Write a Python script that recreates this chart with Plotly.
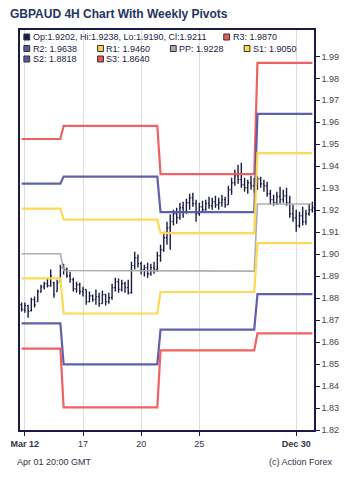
import plotly.graph_objects as go

# ---------------- data ----------------
bar_open = [1.8770, 1.8748, 1.8766, 1.8743, 1.8793, 1.8784, 1.8830, 1.8852, 1.8866, 1.8857,
            1.8870, 1.8830, 1.8875, 1.8939, 1.8930, 1.8902, 1.8884, 1.8843, 1.8861, 1.8830,
            1.8839, 1.8784, 1.8811, 1.8793, 1.8807, 1.8775, 1.8816, 1.8784, 1.8802, 1.8848,
            1.8875, 1.8839, 1.8866, 1.8848, 1.8825, 1.8948, 1.8984, 1.8957, 1.8930, 1.8939,
            1.8911, 1.8939, 1.8930, 1.8993, 1.9020, 1.9075, 1.9120, 1.9148, 1.9184, 1.9166,
            1.9211, 1.9193, 1.9234, 1.9257, 1.9230, 1.9184, 1.9216, 1.9202, 1.9230, 1.9220,
            1.9239, 1.9225, 1.9234, 1.9248, 1.9225, 1.9293, 1.9325, 1.9357, 1.9339, 1.9316,
            1.9302, 1.9325, 1.9311, 1.9330, 1.9343, 1.9320, 1.9311, 1.9275, 1.9248, 1.9234,
            1.9261, 1.9248, 1.9266, 1.9234, 1.9184, 1.9166, 1.9130, 1.9175, 1.9148, 1.9184,
            1.9202]
bar_high = [1.8780, 1.8780, 1.8770, 1.8802, 1.8807, 1.8839, 1.8861, 1.8875, 1.8893, 1.8930,
            1.8875, 1.8884, 1.8952, 1.8957, 1.8939, 1.8920, 1.8893, 1.8875, 1.8870, 1.8852,
            1.8839, 1.8830, 1.8816, 1.8839, 1.8825, 1.8834, 1.8820, 1.8825, 1.8866, 1.8893,
            1.8889, 1.8884, 1.8875, 1.8884, 1.8966, 1.9011, 1.8998, 1.8966, 1.8952, 1.8961,
            1.8957, 1.8966, 1.9011, 1.9043, 1.9102, 1.9148, 1.9180, 1.9202, 1.9211, 1.9234,
            1.9239, 1.9252, 1.9275, 1.9280, 1.9248, 1.9234, 1.9243, 1.9248, 1.9261, 1.9257,
            1.9266, 1.9257, 1.9270, 1.9261, 1.9311, 1.9348, 1.9384, 1.9407, 1.9416, 1.9348,
            1.9339, 1.9357, 1.9348, 1.9357, 1.9352, 1.9339, 1.9330, 1.9293, 1.9270, 1.9284,
            1.9307, 1.9293, 1.9302, 1.9266, 1.9225, 1.9202, 1.9193, 1.9216, 1.9202, 1.9230,
            1.9238]
bar_low = [1.8739, 1.8734, 1.8711, 1.8739, 1.8757, 1.8784, 1.8825, 1.8839, 1.8848, 1.8852,
           1.8802, 1.8830, 1.8875, 1.8907, 1.8893, 1.8870, 1.8830, 1.8825, 1.8816, 1.8807,
           1.8770, 1.8780, 1.8784, 1.8770, 1.8761, 1.8775, 1.8766, 1.8775, 1.8793, 1.8830,
           1.8825, 1.8830, 1.8825, 1.8816, 1.8820, 1.8930, 1.8939, 1.8907, 1.8898, 1.8893,
           1.8902, 1.8911, 1.8920, 1.8966, 1.9011, 1.9043, 1.9020, 1.9130, 1.9139, 1.9157,
           1.9166, 1.9184, 1.9202, 1.9216, 1.9148, 1.9175, 1.9189, 1.9198, 1.9207, 1.9202,
           1.9211, 1.9202, 1.9216, 1.9211, 1.9225, 1.9270, 1.9311, 1.9320, 1.9302, 1.9284,
           1.9275, 1.9293, 1.9280, 1.9293, 1.9302, 1.9284, 1.9261, 1.9225, 1.9220, 1.9225,
           1.9230, 1.9234, 1.9220, 1.9166, 1.9148, 1.9102, 1.9120, 1.9130, 1.9134, 1.9175,
           1.9190]
bar_close = [1.8748, 1.8766, 1.8739, 1.8793, 1.8770, 1.8830, 1.8852, 1.8866, 1.8857, 1.8902,
             1.8816, 1.8870, 1.8939, 1.8930, 1.8902, 1.8884, 1.8843, 1.8861, 1.8830, 1.8839,
             1.8784, 1.8811, 1.8793, 1.8807, 1.8775, 1.8816, 1.8784, 1.8802, 1.8848, 1.8875,
             1.8839, 1.8866, 1.8848, 1.8825, 1.8948, 1.8984, 1.8957, 1.8930, 1.8939, 1.8911,
             1.8939, 1.8930, 1.8993, 1.9020, 1.9075, 1.9120, 1.9148, 1.9184, 1.9166, 1.9211,
             1.9193, 1.9234, 1.9257, 1.9230, 1.9184, 1.9216, 1.9202, 1.9230, 1.9220, 1.9239,
             1.9225, 1.9234, 1.9248, 1.9225, 1.9293, 1.9325, 1.9357, 1.9339, 1.9316, 1.9302,
             1.9325, 1.9311, 1.9330, 1.9343, 1.9320, 1.9311, 1.9275, 1.9248, 1.9234, 1.9261,
             1.9248, 1.9266, 1.9234, 1.9184, 1.9166, 1.9130, 1.9175, 1.9148, 1.9184, 1.9202,
             1.9211]

# bars per weekly pivot period (partial first / last week)
week_bars = [13, 30, 30, 18]
piv_R3 = [1.9524, 1.9584, 1.9364, 1.9870]
piv_R2 = [1.9321, 1.9353, 1.9191, 1.9638]
piv_R1 = [1.9207, 1.9157, 1.9096, 1.9460]
piv_PP = [1.9002, 1.8926, 1.8923, 1.9228]
piv_S1 = [1.8890, 1.8730, 1.8828, 1.9050]
piv_S2 = [1.8685, 1.8499, 1.8657, 1.8818]
piv_S3 = [1.8570, 1.8303, 1.8562, 1.8640]

tick_bars = [1, 19, 37, 55, 85]
tick_text = ["<b>Mar 12</b>", "17", "20", "25", "<b>Dec 30</b>"]
y_tick_vals = [1.82, 1.83, 1.84, 1.85, 1.86, 1.87, 1.88, 1.89, 1.90,
               1.91, 1.92, 1.93, 1.94, 1.95, 1.96, 1.97, 1.98, 1.99]

title_text = "GBPAUD 4H Chart With Weekly Pivots"
footer_left = "Apr 01 20:00 GMT"
footer_right = "(c) Action Forex"

# ---------------- styles ----------------
NAVY = "#1b1b45"
RED = "#ee5a5a"
BLUE = "#5858aa"
YELLOW = "#ffd84d"
GRAY = "#aaaaaa"
FONT = "Liberation Sans, Arial, sans-serif"

W, H = 350, 481
PL, PR, PT, PB = 11, 314, 30, 430


def px(x):
    return (x - PL) / (PR - PL)


def py(y):
    return (PB - y) / (PB - PT)


n = len(bar_close)
idx = list(range(n))


def expand(levels):
    out = []
    for lv, cnt in zip(levels, week_bars):
        out.extend([lv] * cnt)
    return out


fig = go.Figure()

pivots = [
    ("R3", piv_R3, RED), ("R2", piv_R2, BLUE), ("R1", piv_R1, YELLOW),
    ("PP", piv_PP, GRAY), ("S1", piv_S1, YELLOW), ("S2", piv_S2, BLUE),
    ("S3", piv_S3, RED),
]
for name, lv, col in pivots:
    fig.add_trace(go.Scatter(
        x=idx, y=expand(lv), mode="lines", name=name,
        line=dict(color=col, width=1.6 if name == "PP" else 2.2),
        opacity=0.95, showlegend=False, hoverinfo="skip"))

fig.add_trace(go.Ohlc(
    x=idx, open=bar_open, high=bar_high, low=bar_low, close=bar_close,
    increasing=dict(line=dict(color=NAVY, width=1.4)),
    decreasing=dict(line=dict(color=NAVY, width=1.4)),
    tickwidth=0.35, showlegend=False))

# ---------------- custom legend ----------------
o, h, l, c = bar_open[-1], bar_high[-1], bar_low[-1], bar_close[-1]
legend_items = [
    (f"Op:{o:.4f}, Hi:{h:.4f}, Lo:{l:.4f}, Cl:{c:.4f}", NAVY, 15, 37),
    (f"R3: {piv_R3[-1]:.4f}", RED, 221, 37),
    (f"R2: {piv_R2[-1]:.4f}", BLUE, 15, 48.5),
    (f"R1: {piv_R1[-1]:.4f}", YELLOW, 91, 48.5),
    (f"PP: {piv_PP[-1]:.4f}", GRAY, 166, 48.5),
    (f"S1: {piv_S1[-1]:.4f}", YELLOW, 242, 48.5),
    (f"S2: {piv_S2[-1]:.4f}", BLUE, 15, 59),
    (f"S3: {piv_S3[-1]:.4f}", RED, 91, 59),
]
shapes = []
annotations = []
for text, col, sx, ry in legend_items:
    shapes.append(dict(type="rect", xref="paper", yref="paper",
                       x0=px(sx), x1=px(sx + 6), y0=py(ry + 3), y1=py(ry - 3),
                       fillcolor=col, line=dict(color="#333333", width=1),
                       layer="above"))
    annotations.append(dict(text=text, xref="paper", yref="paper",
                            x=px(sx + 7), y=py(ry), xanchor="left", yanchor="middle",
                            showarrow=False, font=dict(family=FONT, size=9, color=NAVY)))

annotations.append(dict(text=footer_left, xref="paper", yref="paper",
                        x=px(6), y=py(462), xanchor="left", yanchor="middle",
                        showarrow=False, font=dict(family=FONT, size=9, color="#333344")))
annotations.append(dict(text=footer_right, xref="paper", yref="paper",
                        x=px(336), y=py(462), xanchor="right", yanchor="middle",
                        showarrow=False, font=dict(family=FONT, size=9, color="#333344")))

fig.update_layout(
    width=W, height=H,
    margin=dict(l=PL, r=W - PR, t=PT, b=H - PB, pad=0),
    paper_bgcolor="white", plot_bgcolor="white",
    title=dict(text=f"<b>{title_text}</b>", x=10 / W, xanchor="left", xref="container",
               y=1 - 14 / H, yanchor="middle", yref="container",
               font=dict(family=FONT, size=12, color="#1f3463")),
    shapes=shapes, annotations=annotations,
    showlegend=False, hovermode=False,
    xaxis=dict(range=[-0.5, n - 0.5], tickmode="array", tickvals=tick_bars,
               ticktext=tick_text, showgrid=True, gridcolor="#dddddd", gridwidth=1,
               zeroline=False, showline=True, linecolor=NAVY, linewidth=1.5, mirror=True,
               ticks="outside", ticklen=4, tickcolor=NAVY,
               tickfont=dict(family=FONT, size=9, color="#333344"),
               rangeslider=dict(visible=False), fixedrange=True),
    yaxis=dict(range=[1.82, 2.002], side="right", tickmode="array", tickvals=y_tick_vals,
               ticktext=[f"{v:.2f}" for v in y_tick_vals], showgrid=False, zeroline=False,
               showline=True, linecolor=NAVY, linewidth=1.5, mirror=True,
               ticks="outside", ticklen=4, tickcolor=NAVY,
               tickfont=dict(family=FONT, size=9, color="#444455"), fixedrange=True),
)

fig.write_html("out.html")
